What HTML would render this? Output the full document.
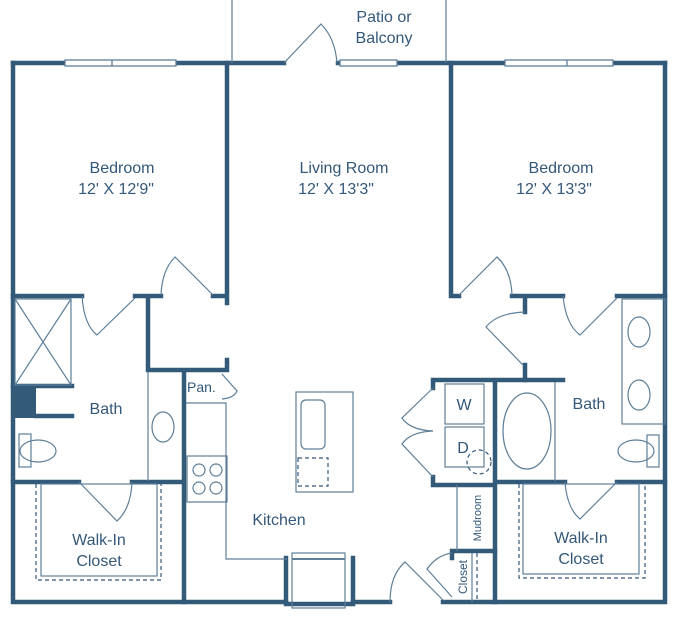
<!DOCTYPE html>
<html><head><meta charset="utf-8"><style>
html,body{margin:0;padding:0;background:#fff;}
svg{display:block;}
text{font-family:"Liberation Sans",sans-serif;fill:#34587a;}
</style></head><body>
<svg width="683" height="637" viewBox="0 0 683 637" xmlns="http://www.w3.org/2000/svg">
<g fill="none" stroke="#335a78" stroke-width="4.5" stroke-linecap="square">
<!-- top wall -->
<path d="M13 63H65 M176 63H284 M338 63H340 M397 63H505 M613 63H665"/>
<!-- outer -->
<path d="M13 63V602H286 M665 63V602H443 M353 602H390"/>
<path d="M286 558V604H353V558"/>
<!-- left bedroom -->
<path d="M227 63V303 M227 360V370H148V296 M13 296H82 M135 296H161 M213 296H227"/>
<!-- left bath -->
<path d="M13 386H72 M36 416H72 M13 482H79 M132 482H184 M184 372V602"/>
<!-- right bedroom -->
<path d="M451 63V296H459 M512 296H563 M617 296H665 M525 296V312 M525 365V380"/>
<!-- laundry -->
<path d="M433 388V380H563 M433 477V485H495 M495 380V602 M495 482H565 M617 482H665"/>
<path d="M452 558V551H495"/>
</g>
<rect x="13" y="386" width="23" height="32" fill="#335a78"/>
<g fill="#fff" stroke="#5d7f99" stroke-width="1.3">
<rect x="65" y="60" width="111" height="6"/><path d="M112 60V66"/>
<rect x="340" y="60" width="57" height="6"/>
<rect x="505" y="60" width="108" height="6"/><path d="M567 60V66"/>
</g>
<g fill="none" stroke="#5d7f99" stroke-width="1.2">
<path d="M232 0V63 M446 0V63"/>
<!-- patio door -->
<path d="M284 63L321 24 Q335 38 337 63"/>
<!-- left bedroom door -->
<path d="M213 295L175 257 Q162 270 161 295"/>
<!-- left bath door top -->
<path d="M82 296Q84 325 97 335L135 298"/>
<!-- shower -->
<rect x="15" y="299" width="56" height="86"/><path d="M15 299L71 385 M71 299L15 385"/>
<rect x="19" y="434" width="12" height="33"/><ellipse cx="38" cy="451" rx="18" ry="11"/>
<path d="M148 372V481"/><ellipse cx="163" cy="427" rx="11" ry="15"/>
<path d="M79 482L117 521Q131 508 132 482"/>
<rect x="41" y="484" width="116" height="92"/>
<!-- kitchen -->
<path d="M186 403H226V559H287"/>
<path d="M222 374L237 391Q234 398 222 399"/>
<rect x="187" y="456" width="40" height="46"/>
<circle cx="199" cy="470" r="6"/><circle cx="216" cy="470" r="6"/><circle cx="199" cy="488" r="6"/><circle cx="216" cy="488" r="6"/>
<rect x="296" y="392" width="57" height="100"/>
<rect x="301" y="400" width="24" height="49" rx="5"/>
<rect x="292" y="553" width="53" height="55"/><path d="M292 559H345" stroke-width="2"/>
<!-- entry door -->
<path d="M390 602Q390 575 405 562L443 600"/>
<!-- laundry -->
<path d="M433 388L402 418Q410 430 433 431 M433 477L402 444Q410 432 433 431"/>
<rect x="445" y="384" width="39" height="40"/><rect x="445" y="427" width="39" height="40"/>
<path d="M457 485V551 M472 553V602"/>
<path d="M452 597L427 569Q437 555 452 553"/>
<!-- right bedroom/bath doors -->
<path d="M459 295L497 257Q511 270 512 295"/>
<path d="M525 312Q497 313 486 327L523 365"/>
<path d="M563 296Q566 325 580 335L617 298"/>
<rect x="622" y="299" width="43" height="125"/>
<ellipse cx="639" cy="332" rx="11" ry="15"/><ellipse cx="639" cy="395" rx="11" ry="15"/>
<rect x="647" y="435" width="12" height="32"/><ellipse cx="636" cy="451" rx="18" ry="11"/>
<path d="M555 382V481"/><ellipse cx="527" cy="431" rx="24" ry="38"/>
<path d="M565 482Q567 508 580 519L617 482"/>
<rect x="523" y="484" width="116" height="90"/>
</g>
<g fill="none" stroke="#34587a" stroke-width="1.2" stroke-dasharray="4 3">
<path d="M36 484V580H161V484"/>
<path d="M519 484V578H645V484"/>
<rect x="298" y="458" width="30" height="28"/>
<circle cx="479" cy="462" r="12"/>
<path d="M477 553V602"/>
</g>
<g font-size="16" text-anchor="middle">
<text x="384" y="22">Patio or</text>
<text x="384" y="43">Balcony</text>
<text x="122" y="173">Bedroom</text>
<text x="116" y="194">12' X 12'9"</text>
<text x="344" y="173">Living Room</text>
<text x="336" y="194">12' X 13'3"</text>
<text x="561" y="173">Bedroom</text>
<text x="554" y="194">12' X 13'3"</text>
<text x="106" y="414">Bath</text>
<text x="589" y="409">Bath</text>
<text x="99" y="545">Walk-In</text>
<text x="99" y="566">Closet</text>
<text x="581" y="543">Walk-In</text>
<text x="581" y="564">Closet</text>
<text x="279" y="525">Kitchen</text>
<text x="464" y="410">W</text>
<text x="463" y="453">D</text>
</g>
<text x="187" y="392" font-size="14">Pan.</text>
<text transform="translate(481,518) rotate(-90)" font-size="11" text-anchor="middle">Mudroom</text>
<text transform="translate(467,577) rotate(-90)" font-size="12" text-anchor="middle">Closet</text>
</svg>
</body></html>
